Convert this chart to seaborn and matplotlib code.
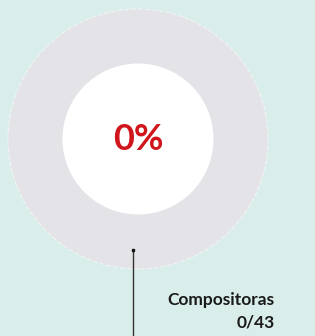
import matplotlib
matplotlib.use("Agg")
import matplotlib.pyplot as plt
import seaborn as sns

# Data
labels = ['Compositoras', 'Resto']
values = [0, 43]
total = 43
done = 0
pie_colors = ['#d0161c', '#e4e3e8']

sns.set_style('white')
plt.rcParams['font.family'] = ['Lato', 'DejaVu Sans']

fig = plt.figure(figsize=(3.15, 3.36), dpi=100)
fig.patch.set_facecolor('#d9eeea')
ax = fig.add_axes([0, 0, 1, 1])
ax.set_facecolor('#d9eeea')

# Donut
ax.pie(values, colors=pie_colors, center=(138, 139), radius=130,
       startangle=90, counterclock=False,
       wedgeprops=dict(linewidth=0, edgecolor='none'), frame=True)
outline = plt.Circle((138, 139), 130, fill=False, edgecolor='white',
                     linestyle=(0, (5, 2)), linewidth=0.7, alpha=0.6)
ax.add_patch(outline)
hole = plt.Circle((138, 139), 75.5, color='white', linewidth=0)
ax.add_patch(hole)

pct = round(100 * done / total)
ax.text(138, 140, f'{pct}%', color='#d0161c', fontsize=26, fontweight='bold',
        ha='center', va='center')

# Leader line
ax.plot([133, 133], [250, 340], color='#333333', linewidth=1)
ax.plot([133], [250], marker='s', markersize=2, color='#111111')

ax.text(275, 300, labels[0], fontsize=12.5, fontweight='bold', color='#1a1a1a',
        ha='right', va='center')
ax.text(275, 323, f'{done}/{total}', fontsize=12.5, fontweight='bold', color='#1a1a1a',
        ha='right', va='center')

ax.set_xlim(0, 315)
ax.set_ylim(336, 0)
ax.set_aspect('equal')
ax.axis('off')

fig.savefig('out.png', dpi=100, facecolor=fig.get_facecolor())
